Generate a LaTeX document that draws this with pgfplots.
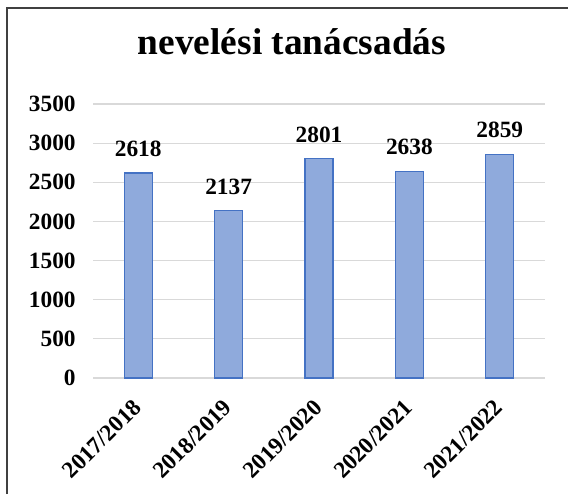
\documentclass[border=0pt]{standalone}
\usepackage{pgfplots}
\pgfplotsset{compat=1.18}
\usepackage{fontspec}
\setmainfont{Liberation Serif}
\definecolor{barfill}{HTML}{8FAADC}
\definecolor{barline}{HTML}{4472C4}
\definecolor{gridc}{HTML}{D9D9D9}
\begin{document}
\begin{tikzpicture}[x=0.75pt,y=0.75pt]
\path[use as bounding box] (0,0) rectangle (568,494);
\draw[line width=1.5pt,color=black!75] (7,0) -- (7,486) -- (568,486);
\begin{axis}[
  at={(103.65pt,87pt)}, anchor=origin,
  scale only axis,
  width=339pt, height=205.5pt,
  xmin=-0.5, xmax=4.5,
  ymin=0, ymax=3500,
  ytick={0,500,...,3500},
  xtick=data,
  xticklabels={2017/2018,2018/2019,2019/2020,2020/2021,2021/2022},
  x tick label style={xshift=-5pt, yshift=-13.5pt, rotate=45, anchor=north east, font=\bfseries\fontsize{17.5}{17.5}\selectfont, inner sep=1pt},
  y tick label style={font=\bfseries\fontsize{17.5}{17.5}\selectfont},
  /pgf/number format/assume math mode=true,
  /pgf/number format/1000 sep={},
  axis line style={draw=none},
  ymajorgrids, grid style={gridc, line width=0.9pt},
  major tick length=0pt,
  yticklabel style={xshift=-9.5pt},
  ybar, bar width=0.31,
  nodes near coords,
  nodes near coords style={font=\bfseries\fontsize{17.5}{17.5}\selectfont, anchor=base, yshift=12.5pt},
  title={nevelési tanácsadás},
  title style={font=\bfseries\fontsize{28}{28}\selectfont, at={(0.5,1)}, anchor=base, yshift=31.5pt, xshift=-20.25pt},
  clip=false,
]
\addplot[fill=barfill, draw=barline, line width=1pt] coordinates {(0,2618) (1,2137) (2,2801) (3,2638) (4,2859)};
\end{axis}
\end{tikzpicture}
\end{document}
